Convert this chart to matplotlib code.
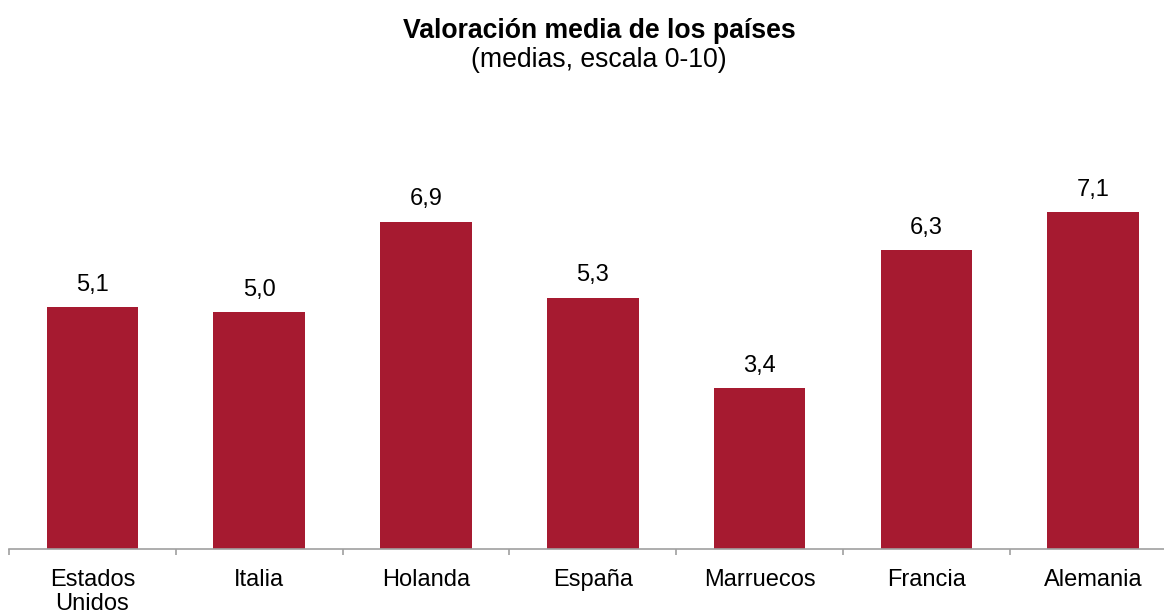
import numpy as np
import matplotlib
matplotlib.use("Agg")
import matplotlib.pyplot as plt

plt.rcParams['font.family'] = ['Liberation Sans', 'DejaVu Sans']

paises = ['Estados\nUnidos', 'Italia', 'Holanda', 'España', 'Marruecos', 'Francia', 'Alemania']
medias = [5.1, 5.0, 6.9, 5.3, 3.4, 6.3, 7.1]

bar_color = '#A61A30'
axis_color = '#A0A0A0'

W, H = 1164, 614
fig = plt.figure(figsize=(W / 100, H / 100), dpi=100)

# axes spans one category width per country; the last slot runs off the right edge
slot = 166.8
left_px, base_px = 9, 549.3
px_per_unit = 47.5
ymax = 8
ax = fig.add_axes([left_px / W, (H - base_px) / H,
                   slot * len(paises) / W, ymax * px_per_unit / H])

x = np.arange(len(paises))
bars = ax.bar(x, medias, width=0.55, color=bar_color)

for xi, v in zip(x, medias):
    ax.annotate(f"{v:.1f}".replace('.', ','), (xi, v), xytext=(0, 8),
                textcoords='offset points', ha='center', va='bottom', fontsize=17)

ax.set_xlim(-0.5, len(paises) - 0.5)
ax.set_ylim(0, ymax)

for side in ['left', 'right', 'top']:
    ax.spines[side].set_visible(False)
ax.spines['bottom'].set_color(axis_color)
ax.spines['bottom'].set_linewidth(1.2)
ax.set_yticks([])

ax.set_xticks(x)
ax.set_xticklabels(paises, fontsize=17, linespacing=1.15)
ax.tick_params(axis='x', which='major', length=0, pad=14)
ax.set_xticks(np.arange(len(paises) + 1) - 0.5, minor=True)
ax.tick_params(axis='x', which='minor', length=4.5, width=1.2, color=axis_color)

cx = 599 / W
fig.text(cx, 1 - 31 / H, 'Valoración media de los países', ha='center', va='center',
         fontsize=19.2, fontweight='bold')
fig.text(cx, 1 - 60 / H, '(medias, escala 0-10)', ha='center', va='center', fontsize=19.2)

fig.savefig('out.png', dpi=100)
